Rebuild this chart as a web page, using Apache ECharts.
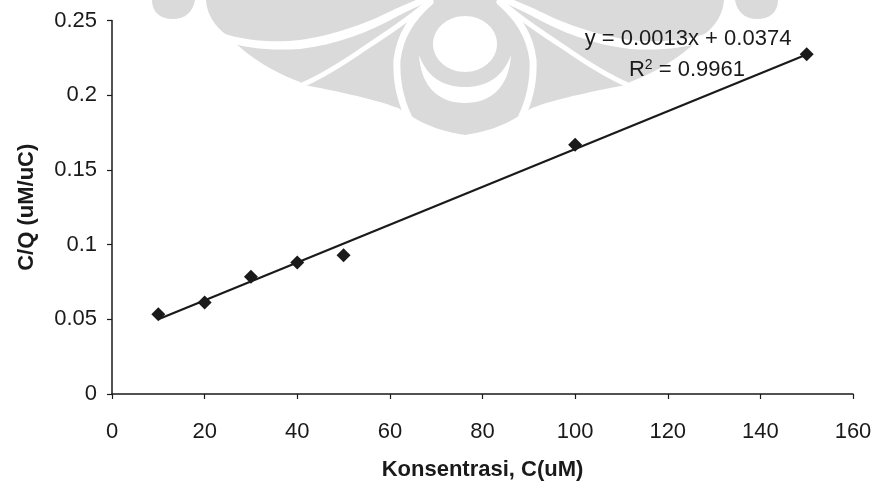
<!DOCTYPE html>
<html>
<head>
<meta charset="utf-8">
<script src="https://cdn.jsdelivr.net/npm/echarts@6/dist/echarts.min.js"></script>
<style>
  html, body { margin: 0; padding: 0; background: #ffffff; }
  #chart { width: 876px; height: 482px; }
</style>
</head>
<body>
<div id="chart"></div>
<script>
// Concentration (uM) and C/Q ratio (uM/uC)
const concentration = [10, 20, 30, 40, 50, 100, 150];
const ratioCQ = [0.0534, 0.0612, 0.0785, 0.0880, 0.0928, 0.1668, 0.2274];

// Axis ranges
const xRange = { min: 0, max: 160, step: 20 };
const yRange = { min: 0, max: 0.25, step: 0.05 };

// Trendline annotation
const equationText = 'y = 0.0013x + 0.0374';
const rSquaredText = '0.9961';

// Least-squares linear fit of the measured points
function linearFit(xs, ys) {
  const n = xs.length;
  const mx = xs.reduce((a, b) => a + b, 0) / n;
  const my = ys.reduce((a, b) => a + b, 0) / n;
  let sxy = 0, sxx = 0;
  for (let i = 0; i < n; i++) {
    sxy += (xs[i] - mx) * (ys[i] - my);
    sxx += (xs[i] - mx) * (xs[i] - mx);
  }
  const slope = sxy / sxx;
  return { slope, intercept: my - slope * mx };
}
const fit = linearFit(concentration, ratioCQ);
const xLo = Math.min(...concentration);
const xHi = Math.max(...concentration);
const trendData = [xLo, xHi].map(x => [x, fit.intercept + fit.slope * x]);

// Faint emblem in the background (left half, mirrored about x = 465)
const AXIS = 465;
const mirror = d => d.replace(/(-?\d+(?:\.\d+)?),(-?\d+(?:\.\d+)?)/g,
  (m, a, b) => (2 * AXIS - parseFloat(a)) + ',' + b);
const emblemFill = 'M466,0 L206,0 C207,14 214,26 228,36 C240,48 262,68 300,82 L304,85 ' +
  'C330,90 372,98 398,108 C412,116 428,130 466,135 Z';
const emblemBlob = 'M152,0 C152,12 160,19 173,19 C185,19 193,12 195,0 Z';
const emblemCut1 = 'M222,33 C245,41 275,43 300,40 C335,35 370,22 395,9 L416,0 L432,0 ' +
  'C420,5 408,11 398,16 C370,32 335,45 300,49 C270,51 245,48 228,42 Z';
const emblemCut2 = 'M424,6 C405,22 385,35 365,48 C345,62 325,75 300,86';
const emblemCut3 = 'M430,2 C412,18 400,35 397,60 C396,82 400,102 412,124';
const emblemCrescent = 'M419,55 C421,88 440,103 465,103 C490,103 509,88 511,55 ' +
  'C503,77 487,87 465,87 C443,87 427,77 419,55 Z';

const GRAY = '#dadada';
function emblemChildren() {
  const kids = [];
  [emblemFill, emblemBlob].forEach(d => {
    kids.push({ type: 'path', shape: { pathData: d }, style: { fill: GRAY } });
    kids.push({ type: 'path', shape: { pathData: mirror(d) }, style: { fill: GRAY } });
  });
  kids.push({ type: 'path', shape: { pathData: emblemCut1 }, style: { fill: '#fff' } });
  kids.push({ type: 'path', shape: { pathData: mirror(emblemCut1) }, style: { fill: '#fff' } });
  [[emblemCut2, 5], [emblemCut3, 7]].forEach(([d, w]) => {
    [d, mirror(d)].forEach(p => kids.push({
      type: 'path', shape: { pathData: p },
      style: { fill: null, stroke: '#fff', lineWidth: w, lineCap: 'round' }
    }));
  });
  kids.push({ type: 'ellipse', shape: { cx: AXIS, cy: 44, rx: 32, ry: 28 }, style: { fill: '#fff' } });
  kids.push({ type: 'path', shape: { pathData: emblemCrescent }, style: { fill: '#fff' } });
  return kids;
}

const FONT = 'Liberation Sans, Arial, sans-serif';
const INK = '#1a1a1a';

const chart = echarts.init(document.getElementById('chart'), null, { renderer: 'canvas' });
chart.setOption({
  backgroundColor: '#ffffff',
  animation: false,
  grid: { left: 112, right: 23, top: 20.5, bottom: 88, containLabel: false, outerBoundsMode: 'none' },
  xAxis: {
    type: 'value',
    min: xRange.min, max: xRange.max, interval: xRange.step,
    name: 'Konsentrasi, C(uM)',
    nameLocation: 'middle',
    nameGap: 65,
    nameTextStyle: { fontFamily: FONT, fontSize: 22, fontWeight: 'bold', color: INK },
    axisLine: { lineStyle: { color: INK, width: 1.5 } },
    axisTick: { show: true, inside: false, length: 5, lineStyle: { color: INK, width: 1.2 } },
    axisLabel: { fontFamily: FONT, fontSize: 22, color: INK, margin: 27 },
    splitLine: { show: false }
  },
  yAxis: {
    type: 'value',
    min: yRange.min, max: yRange.max, interval: yRange.step,
    name: 'C/Q (uM/uC)',
    nameLocation: 'middle',
    nameGap: 74,
    nameTextStyle: { fontFamily: FONT, fontSize: 22, fontWeight: 'bold', color: INK },
    axisLine: { show: true, lineStyle: { color: INK, width: 1.5 } },
    axisTick: { show: true, inside: false, length: 5, lineStyle: { color: INK, width: 1.2 } },
    axisLabel: { fontFamily: FONT, fontSize: 22, color: INK, margin: 15 },
    splitLine: { show: false }
  },
  graphic: [
    {
      type: 'text', x: 688, y: 39, z: 10,
      style: {
        text: equationText, font: '22px ' + FONT, fill: INK,
        align: 'center', verticalAlign: 'middle',
        textAlign: 'center', textVerticalAlign: 'middle'
      }
    },
    {
      type: 'text', x: 687, y: 70, z: 10,
      style: {
        text: '{r|R}{s|2}{r| = ' + rSquaredText + '}',
        fill: INK,
        align: 'center', verticalAlign: 'middle',
        textAlign: 'center', textVerticalAlign: 'middle',
        rich: {
          r: { fontFamily: FONT, fontSize: 22, fill: INK, color: INK, lineHeight: 24 },
          s: { fontFamily: FONT, fontSize: 14, fill: INK, color: INK, verticalAlign: 'top', lineHeight: 12 }
        }
      }
    }
  ],
  series: [
    {
      // background emblem
      type: 'custom',
      silent: true,
      clip: false,
      z: 0,
      data: [[0, 0]],
      renderItem: () => ({ type: 'group', children: emblemChildren() })
    },
    {
      type: 'line',
      data: trendData,
      showSymbol: false,
      silent: true,
      z: 2,
      lineStyle: { color: INK, width: 2.2 }
    },
    {
      type: 'scatter',
      data: concentration.map((x, i) => [x, ratioCQ[i]]),
      symbol: 'diamond',
      symbolSize: [14, 14],
      z: 3,
      itemStyle: { color: INK, opacity: 1 }
    }
  ]
});
</script>
</body>
</html>
